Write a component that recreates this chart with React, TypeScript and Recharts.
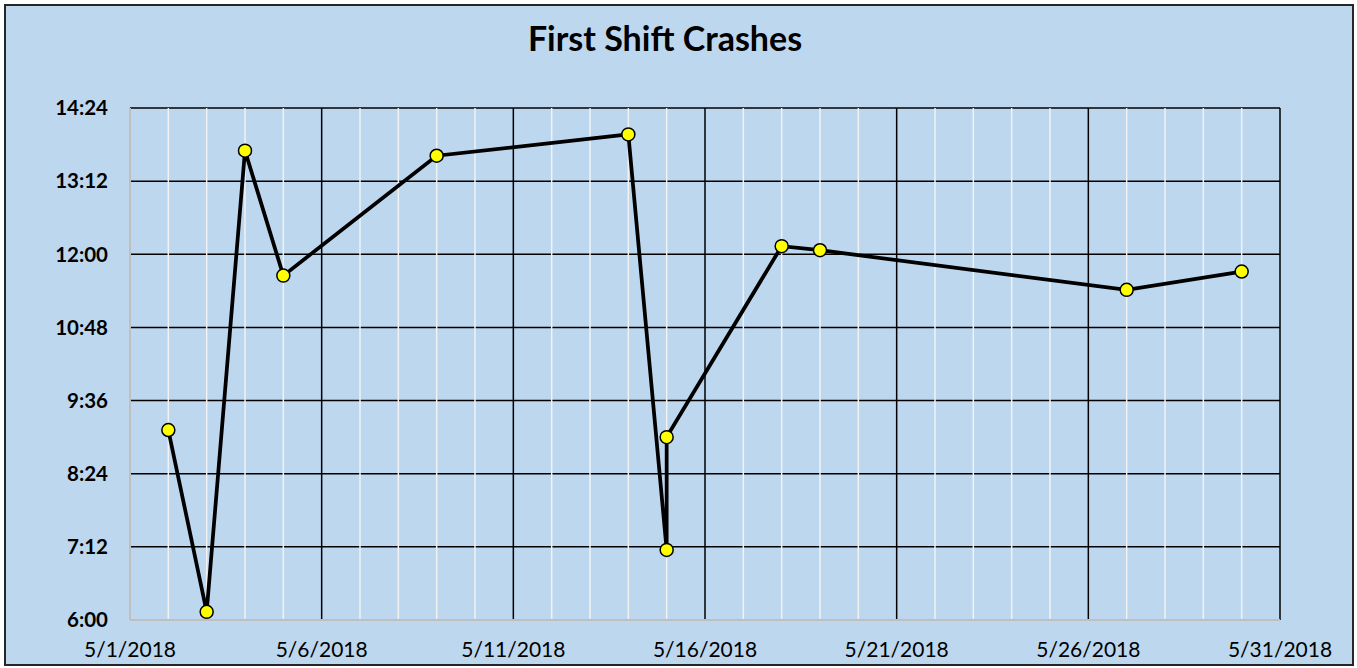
import React from "react";
import { LineChart, Line, XAxis, YAxis, CartesianGrid, ReferenceLine } from "recharts";

const crashDays = [2, 3, 4, 5, 9, 14, 15, 15, 18, 19, 27, 30];
const crashTimes = ["9:07", "6:08", "13:42", "11:39", "13:37", "13:58", "7:09", "9:00", "12:08", "12:04", "11:25", "11:43"];
const xTicks = [1, 6, 11, 16, 21, 26, 31];
const minorDays = [2, 3, 4, 5, 7, 8, 9, 10, 12, 13, 14, 15, 17, 18, 19, 20, 22, 23, 24, 25, 27, 28, 29, 30];
const majorDays = [6, 11, 16, 21, 26, 31];
const yTickLabels = ["6:00", "7:12", "8:24", "9:36", "10:48", "12:00", "13:12", "14:24"];

const toMin = (s: string) => {
  const [h, m] = s.split(":").map(Number);
  return h * 60 + m;
};
const fmtMin = (v: number) => {
  const h = Math.floor(v / 60);
  const m = Math.round(v - h * 60);
  return `${h}:${m < 10 ? "0" + m : m}`;
};

const data = crashDays.map((d, i) => ({ day: d, time: toMin(crashTimes[i]) }));
const yTicks = yTickLabels.map(toMin);

export default function App() {
  return (
    <div style={{ position: "absolute", left: 0, top: 0, width: 1357, height: 668, background: "#fff" }}>
      <div
        style={{
          position: "absolute",
          left: 4,
          top: 4,
          width: 1350,
          height: 662,
          boxSizing: "border-box",
          border: "2px solid #262626",
          background: "#BDD7EE",
        }}
      />
      <div style={{ position: "absolute", left: 0, top: 0 }}>
        <LineChart width={1357} height={668} data={data} margin={{ top: 108, right: 77, bottom: 18, left: 0 }}>
          <CartesianGrid vertical={false} stroke="#000" strokeWidth={1.5} strokeOpacity={1} />
          {minorDays.map((d) => (
            <ReferenceLine key={"m" + d} x={d} stroke="#F2F2F2" strokeWidth={1.5} />
          ))}
          {majorDays.map((d) => (
            <ReferenceLine key={"M" + d} x={d} stroke="#000" strokeWidth={1.5} />
          ))}
          <XAxis
            dataKey="day"
            type="number"
            domain={[1, 31]}
            ticks={xTicks}
            tickFormatter={(v: number) => `5/${v}/2018`}
            height={30}
            tickLine={false}
            tickSize={0}
            tickMargin={22}
            axisLine={{ stroke: "#BFBFBF", strokeWidth: 2 }}
            tick={{ fill: "#000", fontFamily: "Lato", fontSize: 21 }}
            interval={0}
          />
          <YAxis
            type="number"
            domain={[360, 864]}
            ticks={yTicks}
            tickFormatter={fmtMin}
            width={130}
            tickLine={false}
            tickSize={0}
            tickMargin={22}
            axisLine={{ stroke: "#BFBFBF", strokeWidth: 2 }}
            tick={{ fill: "#000", fontFamily: "Lato", fontWeight: "bold", fontSize: 20.5 }}
            interval={0}
          />
          <Line
            type="linear"
            dataKey="time"
            stroke="#000"
            strokeWidth={3.75}
            dot={{ r: 6.5, fill: "#FFFF00", stroke: "#000", strokeWidth: 1.5 }}
            activeDot={false}
            isAnimationActive={false}
          />
        </LineChart>
      </div>
      <svg style={{ position: "absolute", left: 0, top: 0 }} width={1357} height={80}>
        <text x={665} y={51} textAnchor="middle" fontFamily="Lato" fontWeight="bold" fontSize={34} fill="#000">
          First Shift Crashes
        </text>
      </svg>
    </div>
  );
}
